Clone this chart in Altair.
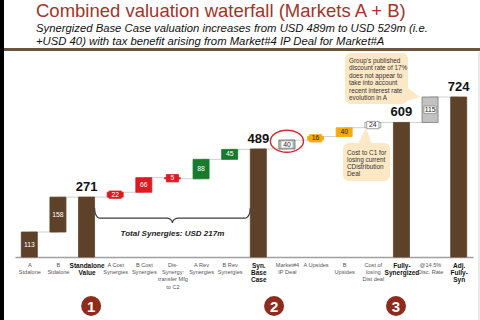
import json
import math

import altair as alt
import pandas as pd

# ---- chart data ---------------------------------------------------------
categories = [
    "A|Stdalone", "B|Stdalone", "Standalone|Value", "A Cost|Synergies",
    "B Cost|Synergies", "Dis-|Synergy:|transfer Mfg|to C2", "A Rev|Synergies",
    "B Rev|Synergies", "Syn.|Base|Case", "Market#4|IP Deal", "A Upsides",
    "B|Upsides", "Cost of|losing|Dist deal", "Fully-|Synergized",
    "@14.5%|Disc. Rate", "Adj.|Fully-|Syn",
]
values = [113, 158, 271, 22, 66, -5, 88, 45, 489, 40, 16, 40, 24, 609, 115, 724]
kinds = [
    "standalone", "standalone", "total", "cost", "cost", "cost", "revenue",
    "revenue", "total", "deal", "upside", "upside", "loss", "total", "rate", "total",
]

title_text = "Combined valuation waterfall (Markets A + B)"
subtitle_text = (
    "Synergized Base Case valuation increases from USD 489m to USD 529m (i.e.\n"
    "+USD 40) with tax benefit arising from Market#4 IP Deal for Market#A"
)
synergy_note = "Total Synergies:  USD 217m"
rate_note = ("Group's published\ndiscount rate of 17%\ndoes not appear to\n"
             "take into account\nrecent interest rate\nevolution in A")
loss_note = "Cost to C1 for\nlosing current\nCDistribution\nDeal"
step_markers = ["1", "2", "3"]

# ---- styling --------------------------------------------------------------
FONT = "Liberation Sans"
BROWN = "#5e4129"
FILL = {"standalone": BROWN, "total": BROWN, "cost": "#dd1a21", "revenue": "#177a2c",
        "deal": "#d4d4d4", "upside": "#f7a90c", "loss": "#f6f6f6", "rate": "#c2c2c2"}
STROKE = dict(FILL, deal="#555555", loss="#9a9a9a", rate="#7a7a7a")
BOX_FILL = {"cost": "#dd1a21", "upside": "#f7a90c", "deal": "#ffffff",
            "loss": "#ffffff", "rate": "#ffffff"}
BOX_STROKE = dict(BOX_FILL, deal="#8a8a8a", loss="#8a8a8a", rate="#8a8a8a")
LIGHT_TEXT = {"standalone", "total", "cost", "revenue"}
HALF = 0.28  # half bar width, in category units

# ---- waterfall table -----------------------------------------------------
rows = []
level = 0
for i, (cat, v, k) in enumerate(zip(categories, values, kinds)):
    if k == "total":
        start, end = 0, v
    else:
        start, end = level, level + v
    level = end
    rows.append({
        "cat": cat, "idx": i, "value": v, "kind": k,
        "start": start, "end": end, "mid": (start + end) / 2,
        "xc": i + 0.5, "x0": i + 0.5 - HALF, "x1": i + 0.5 + HALF,
        "label": str(abs(v)),
        "boxed": k != "total" and (abs(v) < 30 or k in ("deal", "rate")),
        "fill": FILL[k], "stroke": STROKE[k],
        "box_fill": BOX_FILL.get(k, FILL[k]), "box_stroke": BOX_STROKE.get(k, FILL[k]),
        "text_color": "#ffffff" if k in LIGHT_TEXT else "#222222",
    })
df = pd.DataFrame(rows)

conn = pd.DataFrame([
    {"xa": rows[i]["xc"], "xb": rows[i + 1]["xc"], "lvl": rows[i]["end"]}
    for i in range(len(rows) - 1)
])

# curly brace spanning the synergy steps (between the two total bars)
def brace(x_left, x_right, y_top, y_line, y_tip, rx=0.18, rx_mid=0.22, n=10):
    mid = (x_left + x_right) / 2
    pts = []
    for j in range(n + 1):
        t = j / n * math.pi / 2
        pts.append((x_left + rx - rx * math.cos(t), y_top + (y_line - y_top) * math.sin(t)))
    for j in range(n + 1):
        t = j / n * math.pi / 2
        pts.append((mid - rx_mid + rx_mid * math.sin(t), y_tip + (y_line - y_tip) * math.cos(t)))
    right = [(2 * mid - x, y) for x, y in reversed(pts)]
    pts = pts + right[1:]
    return pd.DataFrame({"bx": [p[0] for p in pts], "by": [p[1] for p in pts],
                         "order": list(range(len(pts)))})

total_idx = [r["idx"] for r in rows if r["kind"] == "total"]
brace_df = brace(total_idx[0] + 0.5 + HALF, total_idx[1] + 0.5 - HALF, 222, 176, 154)

# ---- scales / axis -------------------------------------------------------
x_scale = alt.Scale(domain=[0, len(categories)], range=[15, 473], nice=False, zero=False)
y_scale = alt.Scale(domain=[0, 1163], nice=False, zero=False)

is_total = f"indexof({json.dumps(total_idx)}, floor(datum.value)) >= 0"
x_axis = alt.Axis(
    values=[i + 0.5 for i in range(len(categories))],
    labelExpr=f"split({json.dumps(categories)}[floor(datum.value)], '|')",
    title=None, ticks=False, grid=False,
    domainColor="#a0a0a0", domainWidth=1.5,
    labelPadding=5, labelAngle=0, labelAlign="center", labelBaseline="top",
    labelFlush=False, labelOverlap=False, labelLineHeight=7.4, labelFont=FONT,
    labelFontSize={"condition": {"test": is_total, "value": 6.5}, "value": 5.6},
    labelFontWeight={"condition": {"test": is_total, "value": "bold"}, "value": "normal"},
    labelColor={"condition": {"test": is_total, "value": "#111111"}, "value": "#555555"},
)


def X(field):
    return alt.X(field, scale=x_scale, axis=x_axis)


def Y(field):
    return alt.Y(field, scale=y_scale, axis=None)


base = alt.Chart(df)

connectors = alt.Chart(conn).mark_rule(color="#cfcfcf", strokeWidth=1).encode(
    x=X("xa:Q"), x2="xb:Q", y=Y("lvl:Q"),
)

bars = base.mark_rect(strokeWidth=0.8).encode(
    x=X("x0:Q"), x2="x1:Q", y=Y("start:Q"), y2="end:Q",
    fill=alt.Fill("fill:N", scale=None),
    stroke=alt.Stroke("stroke:N", scale=None),
)

label_boxes = base.transform_filter("datum.boxed").mark_point(
    shape="M-1,-0.6H1V0.6H-1Z", size=150, filled=True, opacity=1, strokeWidth=0.8,
).encode(
    x=X("xc:Q"), y=Y("mid:Q"),
    fill=alt.Fill("box_fill:N", scale=None),
    stroke=alt.Stroke("box_stroke:N", scale=None),
)

value_labels = base.transform_filter("datum.kind != 'total'").mark_text(
    font=FONT, fontSize=6.8, baseline="middle", align="center",
).encode(
    x=X("xc:Q"), y=Y("mid:Q"), text="label:N",
    color=alt.Color("text_color:N", scale=None),
)

total_labels = base.transform_filter("datum.kind == 'total'").mark_text(
    font=FONT, fontSize=13, fontWeight="bold", baseline="bottom", align="center",
    dy=-3, color="#111111",
).encode(x=X("xc:Q"), y=Y("end:Q"), text="label:N")

# red hand-drawn style ring around the IP deal step
ring = base.transform_filter("datum.kind == 'deal'").mark_point(
    shape="M-1,-0.2A1,0.667,0,1,0,1,-0.2A1,0.667,0,1,0,-1,-0.2Z",
    size=1089, filled=False, stroke="#d42a2a", strokeWidth=1.4, opacity=1,
).encode(x=X("xc:Q"), y=Y("mid:Q"))

brace_line = alt.Chart(brace_df).mark_line(color="#3c3c3c", strokeWidth=1.2).encode(
    x=X("bx:Q"), y=Y("by:Q"), order="order:Q",
)

note_df = pd.DataFrame({"nx": [(brace_df["bx"].min() + brace_df["bx"].max()) / 2],
                        "t": [synergy_note]})
brace_note = alt.Chart(note_df).mark_text(
    font=FONT, fontSize=8, fontWeight="bold", fontStyle="italic", color="#222222",
    baseline="middle", align="center",
).encode(x=X("nx:Q"), y=alt.value(234), text="t:N")

# numbered step markers below the axis
marker_df = pd.DataFrame({"mx": [2.66, 9.05, 13.31], "n": step_markers})
marker_dots = alt.Chart(marker_df).mark_circle(size=400, color="#8e2b1c", opacity=1).encode(
    x=X("mx:Q"), y=alt.value(306),
)
marker_nums = alt.Chart(marker_df).mark_text(
    font=FONT, fontSize=15, fontWeight="bold", color="#ffffff", baseline="middle", dy=1,
).encode(x=X("mx:Q"), y=alt.value(306), text="n:N")

# callouts
one = pd.DataFrame({"k": [0]})
CALLOUT = "#fde8c6"
rate_box = alt.Chart(one).mark_rect(fill=CALLOUT, cornerRadius=6).encode(
    x=alt.value(345), x2=alt.value(408), y=alt.value(53), y2=alt.value(104))
rate_tail = alt.Chart(one).mark_point(
    shape="M-0.67,0.58L0,-0.67L1,0.08Z", size=576, filled=True, fill=CALLOUT, opacity=1,
    strokeWidth=0).encode(x=alt.value(408), y=alt.value(96))
rate_text = alt.Chart(pd.DataFrame({"t": [rate_note]})).mark_text(
    font=FONT, fontSize=6.4, color="#333333", align="left", baseline="top",
    lineBreak="\n", lineHeight=7.4).encode(x=alt.value(349), y=alt.value(58), text="t:N")

loss_box = alt.Chart(one).mark_rect(fill=CALLOUT, cornerRadius=6).encode(
    x=alt.value(343), x2=alt.value(390), y=alt.value(143), y2=alt.value(181))
loss_tail = alt.Chart(one).mark_point(
    shape="M0.125,-1L0.875,1L-0.875,1Z", size=256, filled=True, fill=CALLOUT, opacity=1,
    strokeWidth=0).encode(x=alt.value(365), y=alt.value(136))
loss_text = alt.Chart(pd.DataFrame({"t": [loss_note]})).mark_text(
    font=FONT, fontSize=6.4, color="#333333", align="left", baseline="top",
    lineBreak="\n", lineHeight=6.9).encode(x=alt.value(347), y=alt.value(150), text="t:N")

# page furniture: heading, rules and border
title = alt.Chart(pd.DataFrame({"t": [title_text]})).mark_text(
    font=FONT, fontSize=18.5, color="#a0352a", align="left", baseline="alphabetic",
).encode(x=alt.value(36), y=alt.value(17), text="t:N")
subtitle = alt.Chart(pd.DataFrame({"t": [subtitle_text]})).mark_text(
    font=FONT, fontSize=11.3, fontStyle="italic", color="#111111", align="left",
    baseline="alphabetic", lineBreak="\n", lineHeight=13,
).encode(x=alt.value(36), y=alt.value(31.5), text="t:N")
top_rule = alt.Chart(one).mark_rule(color="#6b5541", strokeWidth=3).encode(
    x=alt.value(4), x2=alt.value(480), y=alt.value(49.5))
left_border = alt.Chart(one).mark_rect(color="#000000").encode(
    x=alt.value(0), x2=alt.value(4), y=alt.value(0), y2=alt.value(320))
right_edge = alt.Chart(one).mark_rule(color="#d4d4d4", strokeWidth=1).encode(
    x=alt.value(479), y=alt.value(52), y2=alt.value(320))

chart = alt.layer(
    connectors, bars, label_boxes, value_labels, total_labels, ring,
    brace_line, brace_note, marker_dots, marker_nums,
    rate_tail, rate_box, rate_text, loss_tail, loss_box, loss_text,
    title, subtitle, top_rule, left_border, right_edge,
).properties(
    width=480, height=257, autosize="none",
    padding={"left": 0, "top": 0, "right": 0, "bottom": 63},
    background="#ffffff",
).configure_view(stroke=None)

chart.save("out.html", embed_options={"renderer": "svg", "actions": False})
